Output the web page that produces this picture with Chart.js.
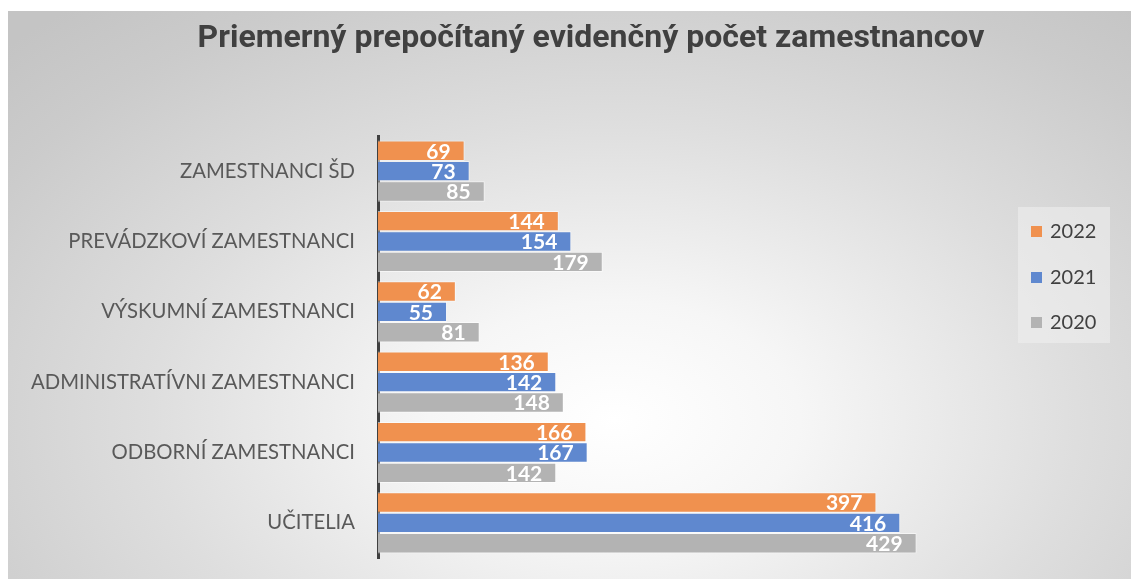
<!DOCTYPE html>
<html>
<head>
<meta charset="utf-8">
<script src="https://cdn.jsdelivr.net/npm/chart.js@4.4.1/dist/chart.umd.min.js"></script>
<style>
  html, body { margin: 0; padding: 0; background: #ffffff; }
  body { width: 1131px; height: 579px; position: relative; overflow: hidden; }
  #panel {
    position: absolute; left: 8px; top: 11px; width: 1123px; height: 568px;
    background: radial-gradient(ellipse 75% 95% at 54% 72%, #ffffff 0%, #f6f6f6 22%, #dedede 55%, #cbcbcb 85%, #c4c4c4 100%);
  }
  /* canvas is wider than the panel so the title centres where it does in the original */
  #chart { position: absolute; left: 0; top: 0; }
  #legend {
    position: absolute; left: 1010px; top: 196px; width: 92px; height: 136px;
    background: rgba(240, 240, 240, 0.55);
    font-family: Lato, "Open Sans", sans-serif; font-size: 20px; color: #404040;
  }
  .item { position: absolute; left: 13px; height: 22px; line-height: 22px; }
  .box { display: inline-block; width: 11px; height: 11px; margin-right: 8px; vertical-align: 1px; }
</style>
</head>
<body>
<div id="panel">
  <canvas id="chart" width="1166" height="568"></canvas>
  <div id="legend"></div>
</div>
<script>
// Categories (top to bottom)
const categories = [
    'ZAMESTNANCI ŠD',
    'PREVÁDZKOVÍ ZAMESTNANCI',
    'VÝSKUMNÍ ZAMESTNANCI',
    'ADMINISTRATÍVNI ZAMESTNANCI',
    'ODBORNÍ ZAMESTNANCI',
    'UČITELIA'
];

// Series values
const years = ['2022', '2021', '2020'];
const values2022 = [69, 144, 62, 136, 166, 397];
const values2021 = [73, 154, 55, 142, 167, 416];
const values2020 = [85, 179, 81, 148, 142, 429];

const colors = ['#f0914f', '#5f88cf', '#b3b3b3'];
const series = [values2022, values2021, values2020];

// Draw value labels inside the bar ends
const barLabels = {
    id: 'barLabels',
    afterDatasetsDraw(chart) {
        const ctx = chart.ctx;
        ctx.save();
        ctx.font = 'bold 21px Lato, "Open Sans", sans-serif';
        ctx.fillStyle = '#ffffff';
        ctx.textAlign = 'right';
        ctx.textBaseline = 'middle';
        chart.data.datasets.forEach((ds, i) => {
            chart.getDatasetMeta(i).data.forEach((bar, j) => {
                ctx.fillText(String(ds.data[j]), bar.x - 14, bar.y + 1);
            });
        });
        ctx.restore();
    }
};

const chart = new Chart(document.getElementById('chart'), {
    type: 'bar',
    data: {
        labels: categories,
        datasets: years.map((y, i) => ({
            label: y,
            data: series[i],
            backgroundColor: colors[i],
            borderColor: 'rgba(255,255,255,0.55)',
            borderWidth: 1,
            categoryPercentage: 0.87,
            barPercentage: 1
        }))
    },
    options: {
        indexAxis: 'y',
        responsive: false,
        animation: false,
        layout: { padding: { left: 0, right: 0, top: 0, bottom: 21 } },
        plugins: {
            legend: { display: false },
            tooltip: { enabled: false },
            title: {
                display: true,
                text: 'Priemerný prepočítaný evidenčný počet zamestnancov',
                color: '#404040',
                font: { family: 'Roboto', size: 32, weight: 'bold' },
                padding: { top: 9, bottom: 77.6 }
            }
        },
        scales: {
            x: {
                display: false,
                min: 0,
                max: 634
            },
            y: {
                afterFit(scale) {
                    scale.width = 370;
                    // labels sit at category centres, no extra room needed above/below
                    scale.paddingTop = 0;
                    scale.paddingBottom = 0;
                },
                grid: { display: false, drawTicks: false },
                border: { display: true, color: '#404040', width: 3 },
                ticks: {
                    color: '#595959',
                    padding: 23,
                    font: { family: 'Lato', size: 20.3 }
                }
            }
        }
    },
    plugins: [barLabels]
});

// Legend built from the same series
const legend = document.getElementById('legend');
years.forEach((y, i) => {
    const item = document.createElement('div');
    item.className = 'item';
    item.style.top = (12 + i * 45.5) + 'px';
    item.innerHTML = '<span class="box" style="background:' + colors[i] + '"></span>' + y;
    legend.appendChild(item);
});
</script>
</body>
</html>
